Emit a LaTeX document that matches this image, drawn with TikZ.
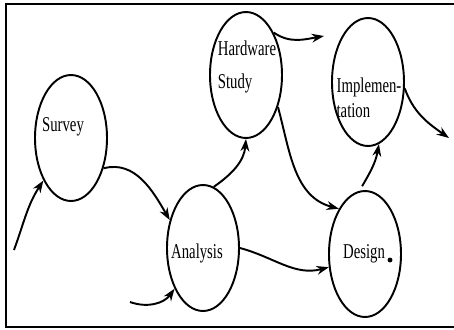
\documentclass[tikz,border=0pt]{standalone}
\usepackage{fontspec}
\setmainfont{Liberation Serif}
\usetikzlibrary{shapes.geometric,arrows.meta}
\tikzset{bubble/.style={draw,ellipse,line width=1.1pt,inner sep=0pt,minimum width=1.44cm,minimum height=2.52cm},
lbl/.style={font=\fontsize{12}{13}\selectfont,xscale=0.7,inner sep=0pt,align=left},
flow/.style={line width=1.1pt,-{Stealth[length=7pt,width=5pt]}}}

\begin{document}
\begin{tikzpicture}[x=0.02cm,y=-0.02cm]
    \useasboundingbox (0,0) rectangle (454,329);
    \draw[line width=1.2pt] (454,4) -- (6,4) -- (6,327) -- (454,327);
    \node[bubble] (survey) at (71,138) {};
    \node[bubble] (hardware) at (246,75) {};
    \node[bubble,minimum height=2.56cm] (implementation) at (368,82) {};
    \node[bubble] (analysis) at (203,248) {};
    \node[bubble] (design) at (365,254) {};
    \node[lbl] (t1) at (63,127) {Survey};
    \node[lbl] (t2) at (247,67) {Hardware\\[6pt]Study};
    \node[lbl] (t3) at (369,98) {Implemen-\\[1pt]tation};
    \node[lbl] (t4) at (197,253) {Analysis};
    \node[lbl] (t5) at (364,254) {Design};
    \fill (design.center) ++(25,6) circle[radius=1.4pt];
    \coordinate (in1) at (14,250);
    \coordinate (in2) at (130,302);
    \coordinate (out1) at (324,36);
    \coordinate (out2) at (449,138);
    \draw[flow] (in1) to[out=70,in=237] (survey.237);
    \draw[flow] (survey.-43) to[out=15,in=120] (analysis.140);
    \draw[flow] (in2) to[out=-20,in=235] (analysis.235);
    \draw[flow] (analysis.80) to[out=35,in=-95] (hardware.south);
    \draw[flow] (hardware.57) to[out=-35,in=190] (out1);
    \draw[flow] (hardware.-45) to[out=-75,in=165] (design.120);
    \draw[flow] (analysis.east) to[out=-15,in=195] (design.200);
    \draw[flow,shorten <=3pt] (design.95) to[out=60,in=-100] (implementation.-80);
    \draw[flow] (implementation.-10) to[out=-70,in=145] (out2);
\end{tikzpicture}
\end{document}
